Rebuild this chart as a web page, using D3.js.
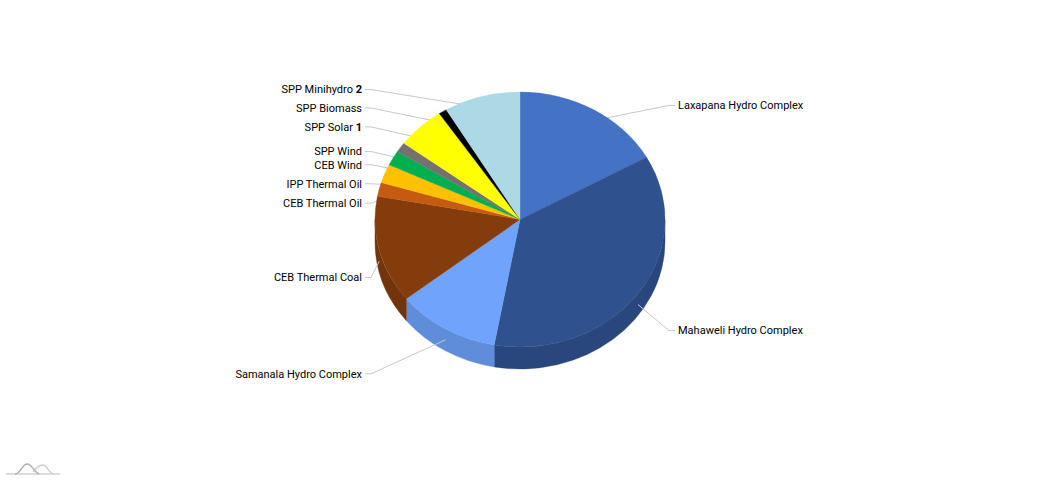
<!DOCTYPE html>
<html>
<head>
<meta charset="utf-8">
<script src="https://cdn.jsdelivr.net/npm/d3@7/dist/d3.min.js"></script>
<style>
  body { margin: 0; background: #fff; }
  text { font-family: Roboto, "Noto Sans", sans-serif; font-size: 11px; fill: #000; }
</style>
</head>
<body>
<svg id="chart" width="1041" height="480"></svg>
<script>
// share of generation (%)
const categories = [
  'Laxapana Hydro Complex', 'Mahaweli Hydro Complex', 'Samanala Hydro Complex',
  'CEB Thermal Coal', 'CEB Thermal Oil', 'IPP Thermal Oil', 'CEB Wind',
  'SPP Wind', 'SPP Solar', 'SPP Biomass', 'SPP Minihydro'
];
const values = [16.9, 36.0, 11.5, 13.6, 1.75, 2.4, 1.9, 1.25, 5.4, 0.9, 8.5];
const footnotes = ['', '', '', '', '', '', '', '', '1', '', '2'];
const colours = [
  '#4472c4', '#2f528f', '#6fa3fc', '#843c0c', '#c55a11', '#ffc000',
  '#00b050', '#767171', '#ffff00', '#000000', '#add8e6'
];

const dims = { cx: 520, cy: 219.5, rx: 145, ry: 127.5, depth: 22 };

const data = categories.map((name, i) => ({ name, value: values[i], note: footnotes[i], colour: colours[i] }));

const pie = d3.pie()
  .sort(null)
  .value(d => d.value);
const arcs = pie(data);

const arcPath = d3.arc()
  .innerRadius(0)
  .outerRadius(dims.rx);

const svg = d3.select('#chart');

const pt = (a, dy = 0) => [dims.cx + dims.rx * Math.sin(a), dims.cy - dims.ry * Math.cos(a) + dy];

// front wall of each slice, only the part that faces us
function sidePath(a0, a1) {
  const s = Math.max(a0, Math.PI / 2), e = Math.min(a1, Math.PI * 1.5);
  if (e <= s) return null;
  const [x0, y0] = pt(s), [x1, y1] = pt(e), [x2, y2] = pt(e, dims.depth), [x3, y3] = pt(s, dims.depth);
  const large = (e - s) > Math.PI ? 1 : 0;
  return `M${x0},${y0}A${dims.rx},${dims.ry} 0 ${large} 1 ${x1},${y1}` +
    `L${x2},${y2}A${dims.rx},${dims.ry} 0 ${large} 0 ${x3},${y3}Z`;
}

svg.append('g')
  .selectAll('path')
  .data(arcs.filter(d => sidePath(d.startAngle, d.endAngle)))
  .join('path')
  .attr('d', d => sidePath(d.startAngle, d.endAngle))
  .attr('fill', d => d3.color(d.data.colour).darker(0.4))
  .attr('stroke', d => d3.color(d.data.colour).darker(0.4))
  .attr('stroke-width', 0.4);

// label ticks
const labelRy = dims.ry + 28.5;
const mid = d => (d.startAngle + d.endAngle) / 2;
const isRight = d => Math.sin(mid(d)) >= 0;
const labelY = d => dims.cy + dims.depth - 1.5 - labelRy * Math.cos(mid(d));
const sideX = (d, off) => dims.cx + (isRight(d) ? 1 : -1) * (dims.rx + off);

svg.append('g')
  .selectAll('polyline')
  .data(arcs)
  .join('polyline')
  .attr('points', d => {
    const [sx, sy] = pt(mid(d), dims.depth / 2);
    return [[sx, sy], [sideX(d, 4), labelY(d)], [sideX(d, 10), labelY(d)]].join(' ');
  })
  .attr('fill', 'none')
  .attr('stroke', '#c8c8c8')
  .attr('stroke-width', 1);

// top face
svg.append('g')
  .attr('transform', `translate(${dims.cx},${dims.cy}) scale(1,${dims.ry / dims.rx})`)
  .selectAll('path')
  .data(arcs)
  .join('path')
  .attr('d', arcPath)
  .attr('fill', d => d.data.colour)
  .attr('stroke', d => d.data.colour)
  .attr('stroke-width', 0.4);

// labels
const labels = svg.append('g')
  .selectAll('text')
  .data(arcs)
  .join('text')
  .attr('x', d => sideX(d, 13))
  .attr('y', d => labelY(d))
  .attr('dy', '0.35em')
  .attr('text-anchor', d => isRight(d) ? 'start' : 'end')
  .text(d => d.data.name);

labels.filter(d => d.data.note)
  .append('tspan')
  .attr('font-weight', 'bold')
  .text(d => ' ' + d.data.note);

// small logo bottom left
const logo = svg.append('g').attr('fill', 'none').attr('stroke-width', 1.5);
logo.append('path').attr('d', 'M6,474H60').attr('stroke', '#d0d0d0');
logo.append('path').attr('d', 'M33,472C37,466 40,465 43,465C47,465 49,474 54,474').attr('stroke', '#d0d0d0');
logo.append('path').attr('d', 'M15,474C21,474 22,464 27,464C32,464 34,472 39,474').attr('stroke', '#b0b0b0');
</script>
</body>
</html>
